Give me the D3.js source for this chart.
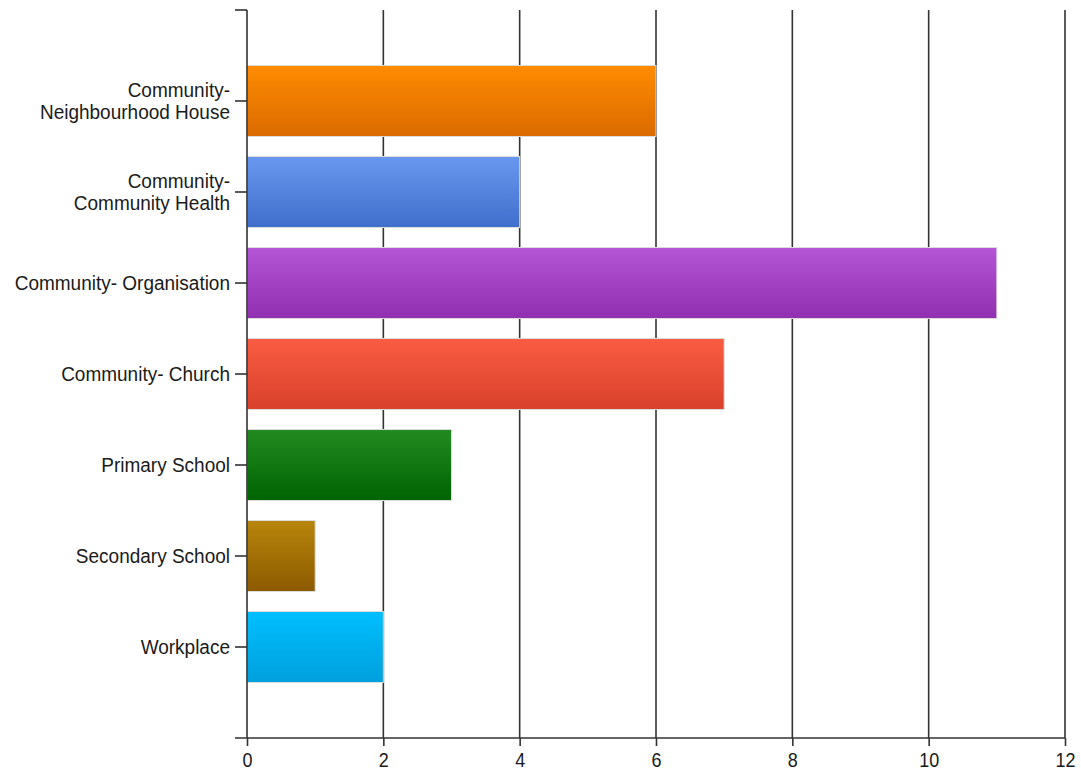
<!DOCTYPE html>
<html>
<head>
<meta charset="utf-8">
<script src="https://cdn.jsdelivr.net/npm/d3@7"></script>
<style>
  html, body { margin: 0; padding: 0; background: #fff; }
  svg text { font-family: "Liberation Sans", Arial, sans-serif; }
</style>
</head>
<body>
<svg id="chart" width="1081" height="776"></svg>
<script>
// Categories (top to bottom) and their counts
const categories = [
  ["Community-", "Neighbourhood House"],
  ["Community-", "Community Health"],
  ["Community- Organisation"],
  ["Community- Church"],
  ["Primary School"],
  ["Secondary School"],
  ["Workplace"]
];
const values = [6, 4, 11, 7, 3, 1, 2];
const xTicks = [0, 2, 4, 6, 8, 10, 12];
// Gradient stops per bar: [top, bottom]
const barColors = [
  ["#ff8c00", "#da6a00"],
  ["#6898ee", "#3f6fcb"],
  ["#b455d6", "#9030b0"],
  ["#f95c42", "#d9412c"],
  ["#238a22", "#006400"],
  ["#b8860b", "#8c5a00"],
  ["#00bfff", "#00a0dc"]
];

const svg = d3.select("#chart");
const plotL = 247, plotR = 1065, plotT = 10, plotB = 738;

const x = d3.scaleLinear().domain([0, 12]).range([plotL, plotR]);
const y = d3.scalePoint().domain(d3.range(categories.length)).range([plotT, plotB]).padding(1);
const barH = y.step() * 0.78;

const defs = svg.append("defs");
barColors.forEach((c, i) => {
  const g = defs.append("linearGradient")
    .attr("id", "grad" + i).attr("x1", 0).attr("y1", 0).attr("x2", 0).attr("y2", 1);
  g.append("stop").attr("offset", "0%").attr("stop-color", c[0]);
  g.append("stop").attr("offset", "100%").attr("stop-color", c[1]);
});

// Vertical gridlines
svg.append("g").selectAll("line").data(xTicks.slice(1)).join("line")
  .attr("x1", d => x(d)).attr("x2", d => x(d))
  .attr("y1", plotT).attr("y2", plotB)
  .attr("stroke", "#333").attr("stroke-width", 1.6);

// Bars
svg.append("g").selectAll("rect").data(values).join("rect")
  .attr("x", x(0))
  .attr("y", (d, i) => y(i) - barH / 2)
  .attr("width", d => x(d) - x(0))
  .attr("height", barH)
  .attr("fill", (d, i) => `url(#grad${i})`)
  .attr("stroke", "#dcdcdc").attr("stroke-width", 1);

// X axis
const xAxis = svg.append("g").attr("transform", `translate(0,${plotB})`)
  .call(d3.axisBottom(x).tickValues(xTicks).tickSize(8).tickPadding(6).tickSizeOuter(0));
xAxis.select(".domain").remove();
xAxis.append("line").attr("x1", 235).attr("x2", plotR).attr("stroke", "#333").attr("stroke-width", 1.6);
xAxis.selectAll(".tick line").attr("stroke", "#333").attr("stroke-width", 1.6).attr("y1", 0).attr("y2", 8);
xAxis.selectAll(".tick text")
  .attr("font-size", 18).attr("fill", "#1a1a1a")
  .attr("y", 0).attr("dy", 0)
  .attr("transform", "translate(0,29) scale(1,1.1)");

// Y axis
const yAxis = svg.append("g");
yAxis.append("line").attr("x1", plotL).attr("x2", plotL).attr("y1", plotT).attr("y2", plotB)
  .attr("stroke", "#333").attr("stroke-width", 1.6);
yAxis.append("line").attr("x1", 235).attr("x2", plotL).attr("y1", plotT).attr("y2", plotT)
  .attr("stroke", "#333").attr("stroke-width", 1.6);
const yt = yAxis.selectAll("g.ytick").data(categories).join("g")
  .attr("class", "ytick").attr("transform", (d, i) => `translate(0,${y(i)})`);
yt.append("line").attr("x1", 235).attr("x2", plotL).attr("stroke", "#333").attr("stroke-width", 1.6);
yt.append("text")
  .attr("text-anchor", "end").attr("font-size", 19).attr("fill", "#1a1a1a")
  .attr("transform", "translate(230,0) scale(1,1.08)")
  .selectAll("tspan").data(d => d.map((t, k) => ({ t, k, n: d.length }))).join("tspan")
  .attr("x", 0)
  .attr("y", d => (d.k - (d.n - 1) / 2) * 20.5)
  .attr("dy", "0.35em")
  .text(d => d.t);
</script>
</body>
</html>
